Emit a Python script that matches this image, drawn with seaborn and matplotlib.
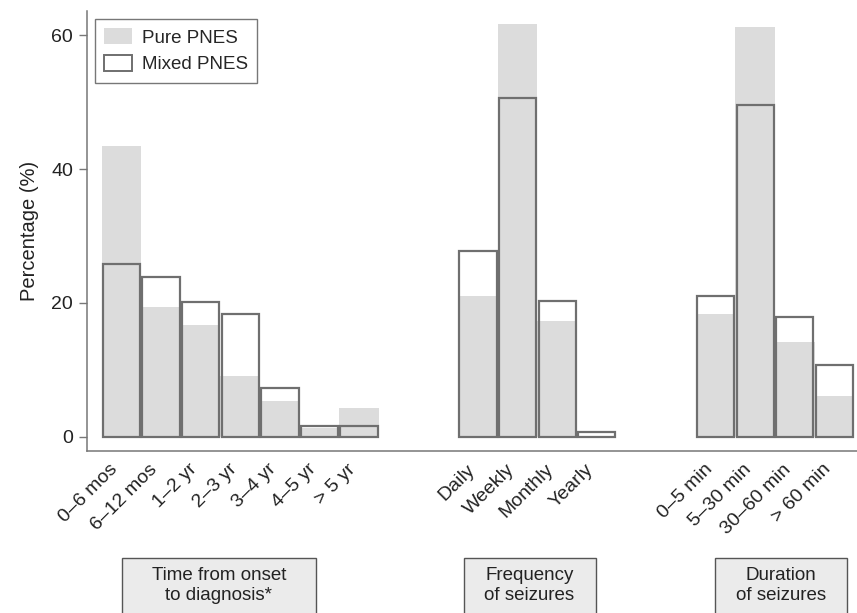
import pandas as pd
import seaborn as sns
import matplotlib.pyplot as plt
from matplotlib.patches import Patch, Rectangle

# Step 1: values (percent of patients)
onset_labels = ["0–6 mos", "6–12 mos", "1–2 yr", "2–3 yr", "3–4 yr", "4–5 yr", "> 5 yr"]
onset_pure = [43.5, 19.4, 16.7, 9.1, 5.3, 1.4, 4.4]
onset_mixed = [25.8, 23.9, 20.2, 18.4, 7.3, 1.7, 1.7]

freq_labels = ["Daily", "Weekly", "Monthly", "Yearly"]
freq_pure = [21.1, 61.6, 17.3, 0.0]
freq_mixed = [27.8, 50.6, 20.3, 0.8]

dur_labels = ["0–5 min", "5–30 min", "30–60 min", "> 60 min"]
dur_pure = [18.4, 61.2, 14.2, 6.1]
dur_mixed = [21.1, 49.5, 17.9, 10.8]

group_titles = ["Time from onset\nto diagnosis*", "Frequency\nof seizures", "Duration\nof seizures"]

# Step 2: one long table, groups separated by an empty gap of two slots
groups = [(onset_labels, onset_pure, onset_mixed),
          (freq_labels, freq_pure, freq_mixed),
          (dur_labels, dur_pure, dur_mixed)]
rows = []
offset = 0
for g, (labels, pure, mixed) in enumerate(groups):
    for i, lab in enumerate(labels):
        rows.append({"pos": offset + i, "label": lab, "group": g,
                     "pure": pure[i], "mixed": mixed[i]})
    offset += len(labels) + 2
df = pd.DataFrame(rows)

sns.set_style("white")
plt.rcParams["font.family"] = ["Liberation Sans", "DejaVu Sans"]

fig = plt.figure(figsize=(8.57, 6.13), dpi=100)
ax = fig.add_axes([0.1015, 0.2643, 0.8985, 0.7177])

edge = "#6f6f6f"
sns.barplot(data=df, x="pos", y="pure", native_scale=True, width=1.0,
            color="#dcdcdc", linewidth=0, errorbar=None, ax=ax)
sns.barplot(data=df, x="pos", y="mixed", native_scale=True, width=0.94,
            color=edge, fill=False, linewidth=1.6, errorbar=None, ax=ax)

ax.set_xlim(-0.87, 18.57)
ax.set_ylim(-2.09, 63.58)
ax.set_yticks([0, 20, 40, 60])
ax.set_xticks(df["pos"])
ax.set_xticklabels(df["label"], rotation=45, ha="right")
ax.tick_params(axis="x", length=0, pad=7, labelsize=14, colors="#222222")
ax.tick_params(axis="y", length=6, width=1, color="#777777", labelsize=14,
               labelcolor="#222222", pad=4, left=True)
ax.set_xlabel("")
ax.set_ylabel("Percentage (%)", fontsize=14.5, color="#222222", labelpad=9)

for side in ["top", "right"]:
    ax.spines[side].set_visible(False)
for side in ["left", "bottom"]:
    ax.spines[side].set_color("#777777")
    ax.spines[side].set_linewidth(1.1)

handles = [Patch(facecolor="#dcdcdc", edgecolor="none", label="Pure PNES"),
           Patch(facecolor="white", edgecolor=edge, linewidth=1.4, label="Mixed PNES")]
leg = ax.legend(handles=handles, loc="upper left", bbox_to_anchor=(0.0104, 0.9818),
                borderaxespad=0, fancybox=False, fontsize=13.5, frameon=True,
                handlelength=1.45, handleheight=0.9, handletextpad=0.55,
                borderpad=0.5, labelspacing=0.45)
leg.get_frame().set_edgecolor("#555555")
leg.get_frame().set_linewidth(1.0)

# Step 3: boxed group captions under the tick labels (figure pixel layout)
W, H = 857, 613
box_spans = [(121.5, 316.3), (463.6, 595.5), (715.4, 846.7)]
for (x0, x1), title in zip(box_spans, group_titles):
    fig.patches.append(Rectangle((x0 / W, -0.05), (x1 - x0) / W, (613 - 558) / H + 0.05,
                                 transform=fig.transFigure, facecolor="#ebebeb",
                                 edgecolor="#555555", linewidth=1.0))
    fig.text((x0 + x1) / 2 / W, 1 - 585.5 / H, title, ha="center", va="center",
             fontsize=13.5, color="#222222", linespacing=1.3)

plt.savefig("out.png", dpi=100)
